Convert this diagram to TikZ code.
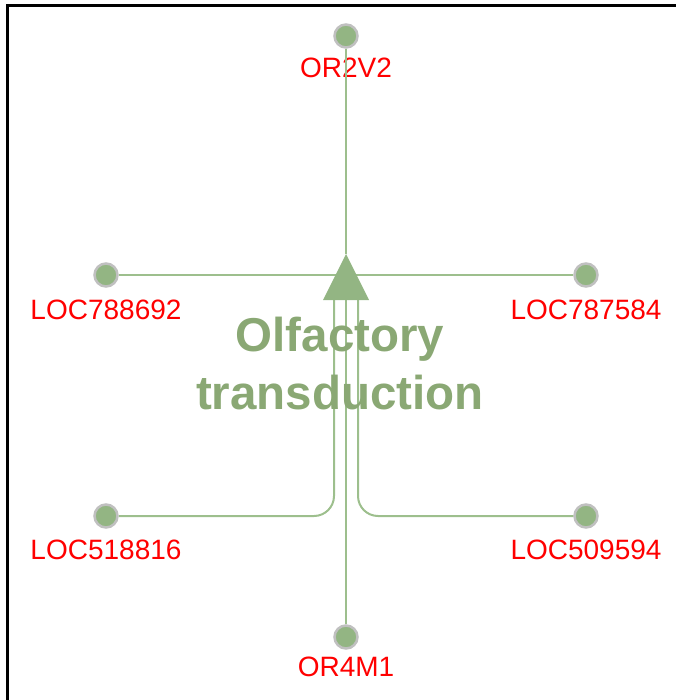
\documentclass[tikz,border=0pt]{standalone}
\usepackage{fontspec}
\setmainfont{Liberation Sans}
\usepackage{xcolor}
\definecolor{genefill}{RGB}{147,181,131}
\definecolor{genedraw}{RGB}{192,192,192}
\definecolor{edgegreen}{RGB}{157,191,141}
\definecolor{titlegreen}{RGB}{138,168,116}
\definecolor{labelred}{RGB}{255,0,0}

\tikzset{
  gene/.style={circle, fill=genefill, draw=genedraw, line width=2.5pt,
    minimum size=23pt, inner sep=0pt},
  genelabel/.style={text=labelred, font=\fontsize{28}{30}\selectfont, inner sep=0pt},
  edge/.style={draw=edgegreen, line width=2pt},
}

\begin{document}
\begin{tikzpicture}[x=1pt, y=-1pt]
  \useasboundingbox (0,0) rectangle (676,700);
  \draw[line width=3pt] (7,700) -- (7,6) -- (676,6);

  % genes
  \node[gene] (or2v2) at (346,36) {};
  \node[gene] (loc788692) at (106,275) {};
  \node[gene] (loc787584) at (586,275) {};
  \node[gene] (loc518816) at (106,516) {};
  \node[gene] (loc509594) at (586,516) {};
  \node[gene] (or4m1) at (346,637) {};

  \node[genelabel] at (346,68) {OR2V2};
  \node[genelabel] at (106,310) {LOC788692};
  \node[genelabel] at (586,310) {LOC787584};
  \node[genelabel] at (106,550) {LOC518816};
  \node[genelabel] at (586,550) {LOC509594};
  \node[genelabel] at (346,667) {OR4M1};

  % triangle corners
  \coordinate (apex) at (346,254);
  \coordinate (baseleft) at (334,300);
  \coordinate (basemid) at (346,300);
  \coordinate (baseright) at (358,300);

  \draw[edge] (or2v2) -- (apex);
  \draw[edge] (loc788692) -- (loc787584);
  \draw[edge, rounded corners=20pt] (loc518816) -| (baseleft);
  \draw[edge] (or4m1) -- (basemid);
  \draw[edge, rounded corners=20pt] (loc509594) -| (baseright);

  \fill[genefill] (apex) -- (369,300) -- (323,300) -- cycle;

  \node[text=titlegreen, align=center, font=\bfseries\fontsize{47.5}{58}\selectfont]
    (title) at (340,364) {Olfactory\\transduction};
\end{tikzpicture}
\end{document}
